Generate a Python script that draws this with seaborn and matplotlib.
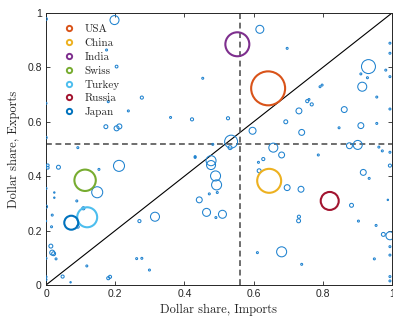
import numpy as np
import pandas as pd
import matplotlib
matplotlib.use("Agg")
import matplotlib.pyplot as plt
import seaborn as sns
from matplotlib.lines import Line2D

# ---------------- data ----------------
countries = ["USA", "China", "India", "Swiss", "Turkey", "Russia", "Japan"]
country_imports = [0.642, 0.645, 0.553, 0.113, 0.119, 0.820, 0.073]
country_exports = [0.723, 0.383, 0.885, 0.385, 0.249, 0.309, 0.229]
country_weight = [598, 298, 298, 237, 207, 168, 101]

other_imports = [
    0.000, 0.198, 0.175, 0.204, 0.000, 0.180, 0.238, 0.000, 0.173, 0.204, 0.212, 0.092,
    0.277, 0.360, 0.422, 0.431, 0.453, 0.482,
    0.618, 0.697, 0.526, 0.731, 0.755, 0.768, 0.760, 0.693, 0.597, 0.739, 0.535, 0.532,
    0.657, 0.932, 0.914, 0.910, 0.929, 0.956, 0.792, 0.798, 0.862, 0.847, 0.910, 0.956,
    0.877, 0.901, 0.962, 0.994, 0.994, 0.982, 0.994, 0.994,
    0.005, 0.005, 0.036, 0.211, 0.153, 0.148, 0.000, 0.024, 0.024, 0.089, 0.000, 0.108,
    0.018, 0.016, 0.092, 0.000, 0.014, 0.018, 0.022, 0.000, 0.029, 0.048, 0.118, 0.180,
    0.185, 0.000, 0.000, 0.071, 0.270, 0.315, 0.262, 0.277, 0.299, 0.443,
    0.431, 0.477, 0.477, 0.490, 0.493, 0.472, 0.495, 0.464, 0.491, 0.510,
    0.681, 0.628, 0.614, 0.616, 0.697, 0.737, 0.731, 0.730, 0.681, 0.611, 0.739, 0.787,
    0.972, 0.917, 0.934, 0.883, 0.903, 0.954, 0.975, 0.994, 0.949, 0.994, 0.988, 0.994,
    0.994, 0.994, 0.994, 0.994,
]
other_exports = [
    0.978, 0.974, 0.864, 0.803, 0.668, 0.674, 0.640, 0.542, 0.582, 0.576, 0.583, 0.505,
    0.689, 0.616, 0.609, 0.472, 0.760, 0.517,
    0.940, 0.870, 0.613, 0.640, 0.676, 0.664, 0.682, 0.600, 0.567, 0.561, 0.527, 0.505,
    0.505, 0.803, 0.729, 0.776, 0.762, 0.691, 0.729, 0.735, 0.645, 0.578, 0.586, 0.594,
    0.512, 0.515, 0.507, 0.889, 0.852, 0.790, 0.766, 0.647,
    0.431, 0.440, 0.433, 0.438, 0.425, 0.341, 0.355, 0.321, 0.340, 0.309, 0.288, 0.282,
    0.257, 0.214, 0.214, 0.235, 0.143, 0.119, 0.115, 0.098, 0.096, 0.031, 0.070, 0.025,
    0.030, 0.030, 0.020, 0.010, 0.235, 0.251, 0.097, 0.098, 0.055, 0.313,
    0.469, 0.457, 0.441, 0.401, 0.368, 0.335, 0.340, 0.267, 0.248, 0.260,
    0.478, 0.463, 0.451, 0.420, 0.358, 0.352, 0.251, 0.236, 0.122, 0.119, 0.076, 0.478,
    0.493, 0.414, 0.392, 0.293, 0.235, 0.219, 0.186, 0.181, 0.096, 0.439, 0.313, 0.141,
    0.110, 0.031, 0.015, 0.488,
]
other_weight = [
    4, 42, 2, 4, 2, 2, 2, 3, 8, 13, 13, 2,
    5, 2, 5, 2, 2, 2,
    33, 2, 5, 18, 5, 5, 2, 8, 25, 18, 87, 8,
    42, 101, 42, 2, 2, 2, 2, 2, 18, 2, 18, 2,
    18, 42, 2, 2, 2, 2, 2, 2,
    4, 4, 8, 63, 2, 63, 2, 1, 1, 2, 5, 5,
    2, 2, 4, 1, 8, 13, 8, 2, 2, 5, 2, 5,
    5, 2, 2, 1, 5, 42, 2, 2, 2, 18,
    2, 52, 42, 52, 52, 2, 2, 33, 2, 33,
    18, 5, 2, 8, 18, 18, 5, 8, 52, 2, 2, 2,
    2, 18, 2, 8, 2, 2, 8, 33, 2, 5, 1, 2,
    2, 2, 2, 2,
]

mean_import_share = 0.561
mean_export_share = 0.517

ticks = [0, 0.2, 0.4, 0.6, 0.8, 1]
tick_labels = ["0", "0.2", "0.4", "0.6", "0.8", "1"]

palette = {
    "USA": "#D95319",
    "China": "#EDB120",
    "India": "#7E2F8E",
    "Swiss": "#77AC30",
    "Turkey": "#4DBEEE",
    "Russia": "#A2142F",
    "Japan": "#0072BD",
}
other_color = "#1f82cf"
axis_color = "#262626"

# ---------------- style ----------------
sns.set_style("ticks")
plt.rcParams["font.family"] = ["Liberation Sans", "DejaVu Sans"]

fig = plt.figure(figsize=(3.93, 3.20), dpi=100)
ax = fig.add_axes([46 / 393, 35 / 320, 346 / 393, 272 / 320])

others = pd.DataFrame({"imports": other_imports, "exports": other_exports,
                       "weight": other_weight})
sns.scatterplot(data=others, x="imports", y="exports", size="weight",
                sizes=(0, 600), size_norm=(0, 600), color=other_color,
                legend=False, ax=ax, zorder=3)
coll = ax.collections[-1]
coll.set_facecolors("none")
coll.set_edgecolors(other_color)
coll.set_linewidths(0.75)

cdf = pd.DataFrame({"country": countries, "imports": country_imports,
                    "exports": country_exports, "weight": country_weight})
sns.scatterplot(data=cdf, x="imports", y="exports", hue="country", palette=palette,
                size="weight", sizes=(0, 600), size_norm=(0, 600),
                legend=False, ax=ax, zorder=4)
coll = ax.collections[-1]
fc = coll.get_facecolors()
coll.set_edgecolors(fc)
coll.set_facecolors("none")
coll.set_linewidths(1.5)

# reference lines
ax.axline((0, 0), slope=1, color="black", lw=0.8, zorder=2)
ax.axhline(mean_export_share, color="#555555", lw=1.2, ls=(0, (3.5, 2.2)), zorder=2)
ax.axvline(mean_import_share, color="#555555", lw=1.2, ls=(0, (3.5, 2.2)), zorder=2)

ax.set_xlim(0, 1)
ax.set_ylim(0, 1)
ax.set_xticks(ticks)
ax.set_xticklabels(tick_labels)
ax.set_yticks(ticks)
ax.set_yticklabels(tick_labels)
ax.tick_params(direction="in", top=True, right=True, length=3, width=0.6,
               labelsize=7.5, colors=axis_color, pad=3)
for sp in ax.spines.values():
    sp.set_visible(True)
    sp.set_color(axis_color)
    sp.set_linewidth(0.7)

ax.set_xlabel("Dollar share, Imports", fontsize=9, family="cmr10", color=axis_color)
ax.set_ylabel("Dollar share, Exports", fontsize=9, family="cmr10", color=axis_color)
ax.xaxis.set_label_coords(0.5, -0.068)
ax.yaxis.set_label_coords(-0.075, 0.5)

handles = [Line2D([], [], ls="", marker="o", markersize=3.8, markeredgewidth=1.4,
                  markerfacecolor="white", markeredgecolor=palette[c], label=c)
           for c in countries]
leg = ax.legend(handles=handles, loc="upper left", bbox_to_anchor=(0.046, 0.958),
                frameon=False, borderpad=0, borderaxespad=0, handlelength=1.2,
                handletextpad=0.85, labelspacing=0.36,
                prop={"family": "cmr10", "size": 8})
for t in leg.get_texts():
    t.set_color(axis_color)

fig.savefig("out.png", dpi=100)
